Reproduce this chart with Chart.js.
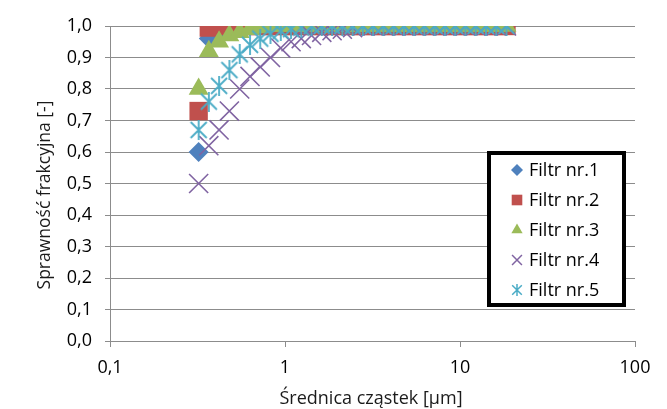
<!DOCTYPE html>
<html>
<head>
<meta charset="utf-8">
<script src="https://cdn.jsdelivr.net/npm/chart.js@4.4.1/dist/chart.umd.min.js"></script>
<style>
html, body { margin: 0; padding: 0; background: #fff; }
#wrap { width: 667px; height: 409px; }
</style>
</head>
<body>
<div id="wrap"><canvas id="chart"></canvas></div>
<script>
// particle sizes [um]
const sizes = [0.321, 0.367, 0.420, 0.481, 0.551, 0.631, 0.722, 0.826, 0.946, 1.083, 1.239,
	1.418, 1.623, 1.858, 2.126, 2.434, 2.785, 3.188, 3.649, 4.176, 4.779, 5.470, 6.260,
	7.165, 8.200, 9.385, 10.74, 12.29, 14.07, 16.10, 18.43]

const filtr1 = [0.60, 0.96, 0.98, 0.99, 0.995, 1, 1, 1, 1, 1, 1, 1, 1, 1, 1, 1, 1, 1, 1, 1, 1, 1, 1, 1, 1, 1, 1, 1, 1, 1, 1]
const filtr2 = [0.73, 0.995, 1, 1, 1, 1, 1, 1, 1, 1, 1, 1, 1, 1, 1, 1, 1, 1, 1, 1, 1, 1, 1, 1, 1, 1, 1, 1, 1, 1, 1]
const filtr3 = [0.80, 0.92, 0.95, 0.97, 0.98, 0.99, 0.995, 1, 1, 1, 1, 1, 1, 1, 1, 1, 1, 1, 1, 1, 1, 1, 1, 1, 1, 1, 1, 1, 1, 1, 1]
const filtr4 = [0.50, 0.62, 0.67, 0.73, 0.80, 0.84, 0.87, 0.90, 0.93, 0.95, 0.96, 0.97, 0.98, 0.985, 0.99, 0.995, 1, 1, 1, 1, 1, 1, 1, 1, 1, 1, 1, 1, 1, 1, 1]
const filtr5 = [0.67, 0.76, 0.81, 0.86, 0.91, 0.94, 0.96, 0.975, 0.985, 0.99, 0.995, 1, 1, 1, 1, 1, 1, 1, 1, 1, 1, 1, 1, 1, 1, 1, 1, 1, 1, 1, 1]

const series_names = ['Filtr nr.1', 'Filtr nr.2', 'Filtr nr.3', 'Filtr nr.4', 'Filtr nr.5']
const x_ticks = [0.1, 1, 10, 100]
const y_title = 'Sprawność frakcyjna [-]'
const x_title = 'Średnica cząstek [µm]'

const colors = ['#4f81bd', '#c0504d', '#9bbb59', '#8064a2', '#4bacc6']
const font_family = '"Open Sans", sans-serif'
const grid_color = '#8c8c8c'

// excel style star: X plus a vertical bar
function make_star(size, color, lw) {
	const c = document.createElement('canvas')
	c.width = size
	c.height = size
	const ctx = c.getContext('2d')
	ctx.strokeStyle = color
	ctx.lineWidth = lw
	const m = size / 2, d = size * 0.4
	ctx.beginPath()
	ctx.moveTo(m, 0)
	ctx.lineTo(m, size)
	ctx.moveTo(m - d, m - d)
	ctx.lineTo(m + d, m + d)
	ctx.moveTo(m + d, m - d)
	ctx.lineTo(m - d, m + d)
	ctx.stroke()
	return c
}

const markers = [
	{ style: 'rectRot', radius: 10, legend_radius: 6, lw: 0 },
	{ style: 'rect', radius: 13, legend_radius: 7.5, lw: 0 },
	{ style: 'triangle', radius: 11.5, legend_radius: 6.5, lw: 0 },
	{ style: 'crossRot', radius: 13.5, legend_radius: 7, lw: 1.6 },
	{ style: make_star(20, colors[4], 1.8), radius: 10, legend: make_star(12, colors[4], 1.5), lw: 1.6 }
]

const all_series = [filtr1, filtr2, filtr3, filtr4, filtr5]

const datasets = all_series.map((values, i) => ({
	label: series_names[i],
	data: sizes.map((x, j) => ({ x: x, y: values[j] })),
	showLine: false,
	pointStyle: markers[i].style,
	pointRadius: markers[i].radius,
	pointHoverRadius: markers[i].radius,
	backgroundColor: colors[i],
	borderColor: colors[i],
	borderWidth: markers[i].lw,
	order: 5 - i
}))

const extras = {
	id: 'extras',
	afterDraw(chart) {
		const ctx = chart.ctx
		ctx.save()

		// axis titles
		ctx.fillStyle = '#1a1a1a'
		ctx.font = '18px ' + font_family
		ctx.textAlign = 'center'
		ctx.textBaseline = 'middle'
		ctx.fillText(x_title, 371, 399)
		ctx.font = '17.5px ' + font_family
		ctx.save()
		ctx.translate(45, 195)
		ctx.rotate(-Math.PI / 2)
		ctx.fillText(y_title, 0, 0)
		ctx.restore()

		// legend box
		ctx.fillStyle = '#fff'
		ctx.fillRect(489, 153, 135, 152)
		ctx.lineWidth = 4
		ctx.strokeStyle = '#000'
		ctx.strokeRect(489, 153, 135, 152)

		ctx.font = '18px ' + font_family
		ctx.textAlign = 'left'
		series_names.forEach((name, i) => {
			const y = 170 + i * 30
			const m = markers[i]
			ctx.fillStyle = colors[i]
			ctx.strokeStyle = colors[i]
			ctx.lineWidth = 1.5
			Chart.helpers.drawPoint(ctx, {
				pointStyle: m.legend || m.style,
				radius: m.legend_radius || 6,
				rotation: 0,
				borderWidth: m.lw ? 1.5 : 0
			}, 517, y)
			ctx.fillStyle = '#000'
			ctx.fillText(name, 529, y + 1)
		})
		ctx.restore()
	}
}

new Chart(document.getElementById('chart'), {
	type: 'scatter',
	data: { datasets: datasets },
	options: {
		responsive: true,
		maintainAspectRatio: false,
		animation: false,
		layout: { padding: { left: 0, right: 32, top: 26, bottom: 0 } },
		plugins: {
			legend: { display: false },
			tooltip: { enabled: false }
		},
		scales: {
			x: {
				type: 'logarithmic',
				min: 0.1,
				max: 100,
				afterBuildTicks: (scale) => { scale.ticks = x_ticks.map(v => ({ value: v })) },
				afterFit: (scale) => { scale.height = 68 },
				ticks: {
					autoSkip: false,
					maxRotation: 0,
					padding: 10,
					color: '#000',
					font: { family: font_family, size: 18 },
					callback: (v) => String(v).replace('.', ',')
				},
				grid: {
					drawOnChartArea: false,
					drawTicks: true,
					tickLength: 6,
					color: grid_color
				},
				border: { display: true, color: grid_color }
			},
			y: {
				min: 0,
				max: 1,
				afterFit: (scale) => { scale.width = 110 },
				ticks: {
					stepSize: 0.1,
					padding: 13,
					color: '#000',
					font: { family: font_family, size: 18 },
					callback: (v) => v.toFixed(1).replace('.', ',')
				},
				grid: {
					color: grid_color,
					drawTicks: true,
					tickLength: 5
				},
				border: { display: true, color: grid_color }
			}
		}
	},
	plugins: [extras]
})
</script>
</body>
</html>
